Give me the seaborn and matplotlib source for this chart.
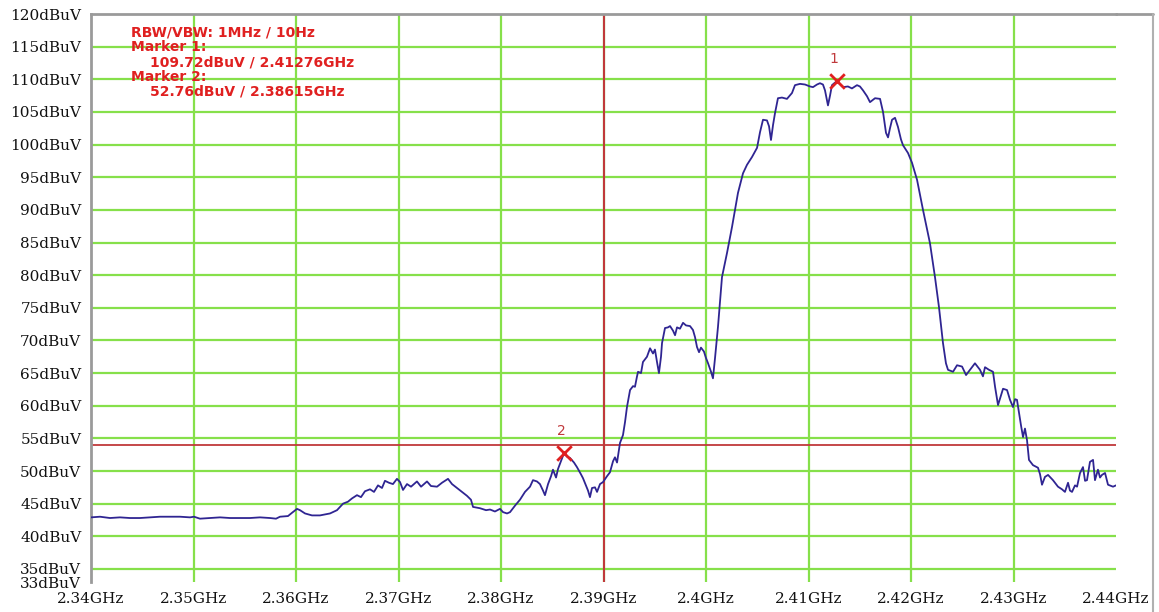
import numpy as np
import pandas as pd
import matplotlib
matplotlib.use("Agg")
import matplotlib.pyplot as plt
from matplotlib.lines import Line2D
import seaborn as sns

# Spectrum trace: frequency (MHz) and level (dBuV)
freq_mhz = [
    2340.00, 2340.88, 2341.85, 2342.83, 2343.80, 2344.78, 2345.76, 2346.73, 2347.71, 2348.68,
    2349.66, 2350.05, 2350.63, 2351.61, 2352.59, 2353.56, 2354.54, 2355.51, 2356.49, 2357.46,
    2358.05, 2358.44, 2359.22, 2359.61, 2360.10, 2360.39, 2360.88, 2361.56, 2362.34, 2363.32,
    2364.00, 2364.59, 2365.07, 2365.46, 2365.95, 2366.34, 2366.73, 2367.22, 2367.61, 2368.00,
    2368.39, 2368.68, 2369.07, 2369.46, 2369.85, 2370.15, 2370.44, 2370.83, 2371.22, 2371.80,
    2372.20, 2372.78, 2373.17, 2373.76, 2374.24, 2374.83, 2375.22, 2375.71, 2376.20, 2376.68,
    2377.07, 2377.27, 2377.95, 2378.54, 2378.93, 2379.41, 2379.90, 2380.20, 2380.59, 2380.88,
    2381.37, 2381.85, 2382.34, 2382.83, 2383.12, 2383.51, 2383.80, 2384.10, 2384.29, 2384.59,
    2384.88, 2385.07, 2385.37, 2385.56, 2385.85, 2386.15, 2386.44, 2386.73, 2387.12, 2387.41,
    2387.80, 2388.00, 2388.29, 2388.49, 2388.68, 2388.88, 2389.17, 2389.37, 2389.66, 2389.95,
    2390.34, 2390.63, 2390.93, 2391.12, 2391.32, 2391.61, 2391.90, 2392.10, 2392.29, 2392.59,
    2392.88, 2393.07, 2393.27, 2393.37, 2393.66, 2393.85, 2394.24, 2394.54, 2394.83, 2395.02,
    2395.22, 2395.41, 2395.61, 2395.71, 2396.00, 2396.29, 2396.49, 2396.78, 2396.98, 2397.17,
    2397.46, 2397.76, 2398.05, 2398.44, 2398.73, 2398.93, 2399.12, 2399.32, 2399.51, 2399.80,
    2400.00, 2400.20, 2400.49, 2400.68, 2400.88, 2401.17, 2401.56, 2402.05, 2402.54, 2402.83,
    2403.12, 2403.61, 2404.00, 2404.49, 2404.98, 2405.27, 2405.56, 2405.95, 2406.15, 2406.34,
    2406.54, 2406.73, 2407.02, 2407.41, 2407.90, 2408.39, 2408.68, 2409.17, 2409.66, 2410.15,
    2410.44, 2410.83, 2411.12, 2411.41, 2411.61, 2411.90, 2412.10, 2412.29, 2412.76, 2413.37,
    2413.85, 2414.24, 2414.73, 2415.02, 2415.32, 2415.71, 2416.00, 2416.49, 2416.98, 2417.27,
    2417.56, 2417.76, 2417.95, 2418.15, 2418.44, 2418.73, 2419.02, 2419.22, 2419.71, 2420.10,
    2420.59, 2421.17, 2421.85, 2422.34, 2422.73, 2423.12, 2423.41, 2423.61, 2424.10, 2424.49,
    2424.98, 2425.37, 2425.76, 2426.24, 2426.73, 2427.02, 2427.22, 2427.61, 2428.00, 2428.20,
    2428.49, 2428.98, 2429.37, 2429.66, 2429.95, 2430.15, 2430.34, 2430.54, 2430.73, 2430.93,
    2431.12, 2431.32, 2431.51, 2431.90, 2432.39, 2432.59, 2432.78, 2433.07, 2433.37, 2433.85,
    2434.34, 2434.73, 2435.02, 2435.32, 2435.51, 2435.71, 2436.00, 2436.20, 2436.49, 2436.78,
    2436.98, 2437.17, 2437.46, 2437.76, 2437.95, 2438.24, 2438.44, 2438.63, 2438.93, 2439.22,
    2439.71, 2440.00,
]
level_dbuv = [
    42.9, 43.0, 42.8, 42.9, 42.8, 42.8, 42.9, 43.0, 43.0, 43.0,
    42.9, 43.0, 42.7, 42.8, 42.9, 42.8, 42.8, 42.8, 42.9, 42.8,
    42.7, 43.0, 43.1, 43.6, 44.2, 44.0, 43.5, 43.2, 43.2, 43.5,
    44.0, 45.0, 45.3, 45.8, 46.3, 46.0, 46.9, 47.2, 46.8, 47.8,
    47.4, 48.5, 48.2, 48.0, 48.8, 48.3, 47.1, 48.0, 47.6, 48.4,
    47.6, 48.4, 47.7, 47.6, 48.2, 48.8, 48.0, 47.4, 46.8, 46.2,
    45.6, 44.5, 44.3, 44.0, 44.1, 43.8, 44.2, 43.7, 43.5, 43.7,
    44.7, 45.6, 46.8, 47.6, 48.6, 48.4, 48.0, 47.0, 46.3, 48.0,
    49.2, 50.2, 49.0, 50.3, 51.5, 52.76, 52.2, 52.0, 51.3, 50.6,
    49.5, 48.9, 47.8, 47.0, 46.0, 47.4, 47.5, 46.8, 48.0, 48.3,
    49.2, 49.8, 51.5, 52.1, 51.3, 54.3, 55.5, 57.5, 59.8, 62.4,
    63.0, 62.9, 64.5, 65.2, 65.0, 66.7, 67.5, 68.8, 68.0, 68.6,
    66.7, 65.0, 67.5, 69.6, 71.9, 72.0, 72.2, 71.5, 70.8, 72.0,
    71.8, 72.7, 72.3, 72.2, 71.6, 70.5, 69.0, 68.2, 68.9, 68.3,
    67.3, 66.5, 65.2, 64.2, 67.3, 72.1, 79.7, 83.4, 87.4, 90.0,
    92.6, 95.6, 96.9, 98.1, 99.5, 101.9, 103.8, 103.7, 102.8, 100.7,
    103.0, 104.8, 107.1, 107.2, 107.0, 107.9, 109.1, 109.3, 109.2, 108.9,
    108.8, 109.2, 109.4, 109.2, 108.3, 106.0, 107.5, 109.1, 109.72, 108.8,
    108.9, 108.6, 109.1, 108.9, 108.3, 107.4, 106.5, 107.1, 107.0, 105.0,
    101.8, 101.1, 102.5, 103.8, 104.1, 102.7, 100.8, 99.9, 98.7, 97.2,
    94.6, 90.0, 84.9, 79.7, 75.1, 69.6, 66.5, 65.5, 65.2, 66.2,
    66.0, 64.7, 65.5, 66.5, 65.5, 64.5, 65.9, 65.5, 65.2, 62.9,
    60.1, 62.6, 62.4, 60.9, 59.8, 61.0, 60.9, 58.9, 57.0, 55.2,
    56.5, 54.7, 51.7, 50.9, 50.5, 49.5, 47.9, 49.1, 49.4, 48.6,
    47.6, 47.2, 46.8, 48.2, 47.0, 46.8, 47.8, 47.6, 49.7, 50.6,
    48.5, 48.6, 51.4, 51.7, 48.6, 50.2, 49.0, 49.4, 49.7, 47.9,
    47.6, 47.8,
]

# Markers and reference lines
marker_ids = ["1", "2"]
marker_ghz = [2.41276, 2.38615]
marker_dbuv = [109.72, 52.76]
ref_freq_ghz = 2.39
ref_level_dbuv = 54.0

# Axis ticks
x_ticks = [2.34, 2.35, 2.36, 2.37, 2.38, 2.39, 2.40, 2.41, 2.42, 2.43, 2.44]
x_labels = ["2.34GHz", "2.35GHz", "2.36GHz", "2.37GHz", "2.38GHz", "2.39GHz",
            "2.4GHz", "2.41GHz", "2.42GHz", "2.43GHz", "2.44GHz"]
y_ticks = [33, 35, 40, 45, 50, 55, 60, 65, 70, 75, 80, 85, 90, 95, 100, 105, 110, 115, 120]
y_labels = [f"{v}dBuV" for v in y_ticks]

info_lines = [
    ("RBW/VBW: 1MHz / 10Hz", 0),
    ("Marker 1:", 0),
    ("109.72dBuV / 2.41276GHz", 1),
    ("Marker 2:", 0),
    ("52.76dBuV / 2.38615GHz", 1),
]

df = pd.DataFrame({"GHz": np.array(freq_mhz) / 1000.0, "dBuV": level_dbuv})

sns.set_style("white")
plt.rcParams["font.family"] = ["DejaVu Serif"]

W, H = 1159, 612
fig = plt.figure(figsize=(W / 100, H / 100), dpi=100)
ax = fig.add_axes([91 / W, (H - 582) / H, (1116 - 91) / W, (582 - 14) / H])

grid_green = "#86e04a"
trace_blue = "#2f2592"
mark_red = "#e02020"
ref_red = "#c0393b"
frame_gray = "#9a9a9a"

ax.set_xlim(2.34, 2.44)
ax.set_ylim(33, 120)

for xv in x_ticks[1:-1]:
    ax.axvline(xv, color=grid_green, lw=1.6, zorder=1)
for yv in y_ticks[1:-1]:
    ax.axhline(yv, color=grid_green, lw=1.6, zorder=1)

ax.axvline(ref_freq_ghz, color=ref_red, lw=1.5, zorder=2)
ax.axhline(ref_level_dbuv, color=ref_red, lw=1.3, zorder=2)

sns.lineplot(data=df, x="GHz", y="dBuV", ax=ax, color=trace_blue, lw=1.3,
             zorder=3, sort=False, estimator=None)

sns.scatterplot(x=marker_ghz, y=marker_dbuv, ax=ax, marker="x", s=110,
                color=mark_red, linewidth=2.0, zorder=4)
for mid, mx, my in zip(marker_ids, marker_ghz, marker_dbuv):
    ax.annotate(mid, (mx, my), xytext=(-2, 16), textcoords="offset points",
                ha="center", va="center", color=ref_red, fontsize=10,
                family="DejaVu Sans")

ax.set_xticks(x_ticks)
ax.set_xticklabels(x_labels)
ax.set_yticks(y_ticks)
ax.set_yticklabels(y_labels)
ax.tick_params(axis="both", length=0, labelsize=11, colors="#111111")
ax.tick_params(axis="x", pad=7)
ax.tick_params(axis="y", pad=7)
ax.set_xlabel("")
ax.set_ylabel("")

for side in ["right", "bottom"]:
    ax.spines[side].set_visible(False)
ax.spines["left"].set_color(frame_gray)
ax.spines["left"].set_linewidth(2.0)
ax.spines["top"].set_color(frame_gray)
ax.spines["top"].set_linewidth(2.0)

# Outer window frame continuing the top border and closing the right side
fig.add_artist(Line2D([1116 / W, 1153 / W], [(H - 14) / H, (H - 14) / H],
                      transform=fig.transFigure, color=frame_gray, lw=2.0))
fig.add_artist(Line2D([1153 / W, 1153 / W], [(H - 14) / H, 0],
                      transform=fig.transFigure, color="#b0b0b0", lw=1.5))

y0 = 32.5
for i, (txt, indent) in enumerate(info_lines):
    fig.text((131 + 19 * indent) / W, (H - (y0 + 14.8 * i)) / H, txt,
             color=mark_red, fontsize=10.0, fontweight="bold",
             family="DejaVu Sans", ha="left", va="center")

fig.savefig("out.png", dpi=100)
